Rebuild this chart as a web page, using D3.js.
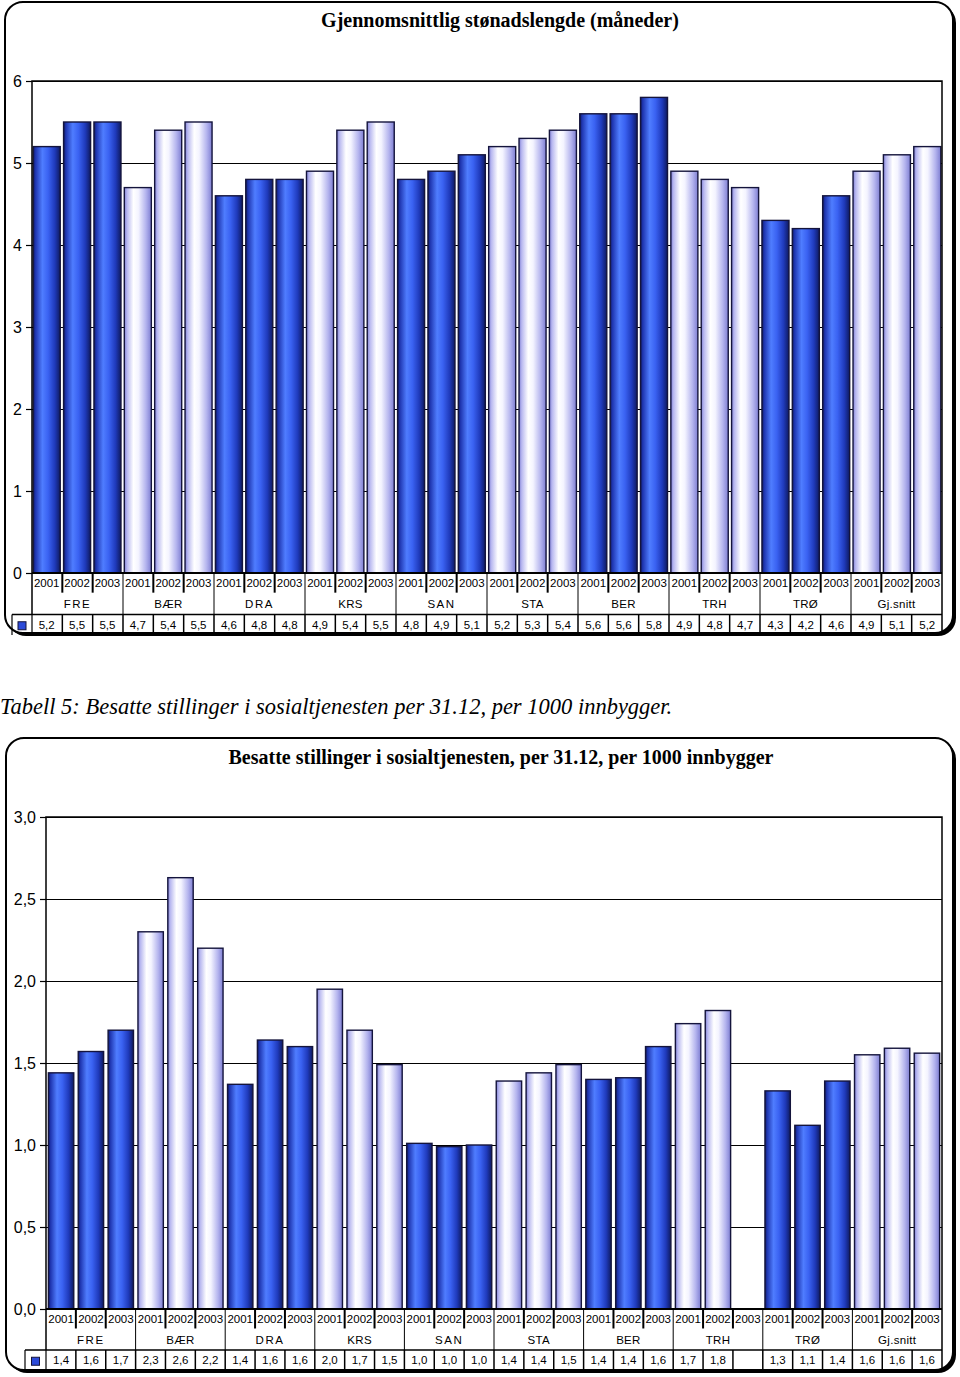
<!DOCTYPE html>
<html>
<head>
<meta charset="utf-8">
<script src="https://cdn.jsdelivr.net/npm/d3@7"></script>
<style>
  html, body { margin: 0; padding: 0; background: #fff; }
  svg { display: block; }
</style>
</head>
<body>
<svg id="chart" width="960" height="1377"></svg>
<script>
// ---------- DATA ----------
const groups = ["FRE", "BÆR", "DRA", "KRS", "SAN", "STA", "BER", "TRH", "TRØ", "Gj.snitt"];
const years = ["2001", "2002", "2003"];

const stonadValues = [5.2, 5.5, 5.5, 4.7, 5.4, 5.5, 4.6, 4.8, 4.8, 4.9, 5.4, 5.5, 4.8, 4.9, 5.1,
                      5.2, 5.3, 5.4, 5.6, 5.6, 5.8, 4.9, 4.8, 4.7, 4.3, 4.2, 4.6, 4.9, 5.1, 5.2];
const stonadLabels = ["5,2", "5,5", "5,5", "4,7", "5,4", "5,5", "4,6", "4,8", "4,8", "4,9", "5,4", "5,5", "4,8", "4,9", "5,1",
                      "5,2", "5,3", "5,4", "5,6", "5,6", "5,8", "4,9", "4,8", "4,7", "4,3", "4,2", "4,6", "4,9", "5,1", "5,2"];
const stonadTicks = [0, 1, 2, 3, 4, 5, 6];
const stonadTickLabels = ["0", "1", "2", "3", "4", "5", "6"];

const stillingValues = [1.44, 1.57, 1.70, 2.30, 2.63, 2.20, 1.37, 1.64, 1.60, 1.95, 1.70, 1.49, 1.01, 0.99, 1.00,
                        1.39, 1.44, 1.49, 1.40, 1.41, 1.60, 1.74, 1.82, null, 1.33, 1.12, 1.39, 1.55, 1.59, 1.56];
const stillingLabels = ["1,4", "1,6", "1,7", "2,3", "2,6", "2,2", "1,4", "1,6", "1,6", "2,0", "1,7", "1,5", "1,0", "1,0", "1,0",
                        "1,4", "1,4", "1,5", "1,4", "1,4", "1,6", "1,7", "1,8", "", "1,3", "1,1", "1,4", "1,6", "1,6", "1,6"];
const stillingTicks = [0, 0.5, 1.0, 1.5, 2.0, 2.5, 3.0];
const stillingTickLabels = ["0,0", "0,5", "1,0", "1,5", "2,0", "2,5", "3,0"];

const topTitle = "Gjennomsnittlig stønadslengde (måneder)";
const bottomTitle = "Besatte stillinger i sosialtjenesten, per 31.12, per 1000 innbygger";
const caption = "Tabell 5: Besatte stillinger i sosialtjenesten per 31.12, per 1000 innbygger.";

// ---------- DRAWING ----------
const svg = d3.select("#chart");
const defs = svg.append("defs");

function grad(id, stops) {
  const g = defs.append("linearGradient").attr("id", id)
    .attr("x1", "0%").attr("x2", "100%").attr("y1", "0%").attr("y2", "0%");
  stops.forEach(([o, c]) => g.append("stop").attr("offset", o).attr("stop-color", c));
}
grad("darkGrad", [["0%", "#0f1a5e"], ["8%", "#1e34ae"], ["34%", "#4f7dff"], ["55%", "#3a62f2"], ["80%", "#1f3abb"], ["100%", "#0f1a60"]]);
grad("lightGrad", [["0%", "#8080d4"], ["10%", "#b8b8f0"], ["34%", "#ffffff"], ["52%", "#f4f4ff"], ["80%", "#b4b4ee"], ["100%", "#7e7ed2"]]);

const sans = "'Liberation Sans', Arial, sans-serif";
const serif = "'Liberation Serif', 'Times New Roman', serif";

function frame(x, y, w, h) {
  svg.append("rect").attr("x", x + 3).attr("y", y + 3).attr("width", w).attr("height", h)
    .attr("rx", 18).attr("fill", "#000");
  svg.append("rect").attr("x", x).attr("y", y).attr("width", w).attr("height", h)
    .attr("rx", 18).attr("fill", "#fff").attr("stroke", "#000").attr("stroke-width", 2);
}

function drawChart(cfg) {
  const { left, right, top, bottom, domainMax, values, labels, ticks, tickLabels,
          legendLeft, rowH } = cfg;
  const g = svg.append("g");
  const keys = d3.range(values.length);
  const x = d3.scaleBand().domain(keys).range([left, right]).paddingInner(cfg.padIn).paddingOuter(cfg.padOut);
  const y = d3.scaleLinear().domain([0, domainMax]).range([bottom, top]);

  // gridlines
  g.append("g").selectAll("line").data(ticks).join("line")
    .attr("x1", left).attr("x2", right)
    .attr("y1", d => Math.round(y(d)) + 0.5).attr("y2", d => Math.round(y(d)) + 0.5)
    .attr("stroke", "#000").attr("stroke-width", 1);

  // bars
  g.append("g").selectAll("rect").data(keys.filter(i => values[i] != null)).join("rect")
    .attr("x", i => x(i)).attr("width", x.bandwidth())
    .attr("y", i => y(values[i])).attr("height", i => y(0) - y(values[i]))
    .attr("fill", i => (Math.floor(i / 3) % 2 === 0) ? "url(#darkGrad)" : "url(#lightGrad)")
    .attr("stroke", "#14143c").attr("stroke-width", 1.4);

  // plot border (left, top, right)
  g.append("path")
    .attr("d", `M${left},${bottom + rowH * 2}V${top}H${right}V${bottom + rowH * 3}`)
    .attr("fill", "none").attr("stroke", "#000").attr("stroke-width", 1.5);

  // y axis ticks + labels
  const axis = d3.axisLeft(y).tickValues(ticks).tickSize(6).tickPadding(4)
    .tickFormat((d, i) => tickLabels[i]);
  const ax = g.append("g").attr("transform", `translate(${left},0)`).call(axis);
  ax.select(".domain").remove();
  ax.selectAll("text").attr("font-family", sans).attr("font-size", 16).attr("fill", "#000");
  ax.selectAll("line").attr("stroke", "#000").attr("stroke-width", 1.2);

  // category table
  const edges = d3.range(values.length + 1).map(i => left + (right - left) * i / values.length);
  const t = g.append("g").attr("font-family", sans).attr("fill", "#000");
  const y0 = bottom, y1 = bottom + rowH, y2 = bottom + rowH * 2, y3 = bottom + rowH * 3;

  // x axis line
  t.append("line").attr("x1", left).attr("x2", right).attr("y1", y0).attr("y2", y0)
    .attr("stroke", "#000").attr("stroke-width", 2);
  // year separators (partial) and group separators (full)
  edges.forEach((ex, i) => {
    if (i === 0 || i === values.length) return;
    const isGroup = i % 3 === 0;
    t.append("line").attr("x1", ex).attr("x2", ex).attr("y1", y0)
      .attr("y2", isGroup ? y2 : y0 + rowH * 0.95)
      .attr("stroke", "#000").attr("stroke-width", isGroup ? 1 : 2);
  });
  // year labels
  t.selectAll("text.yr").data(keys).join("text").attr("class", "yr")
    .attr("x", i => x(i) + x.bandwidth() / 2).attr("y", y0 + rowH * 0.5 + 4)
    .attr("text-anchor", "middle").attr("font-size", 11.5).text(i => years[i % 3]);
  // group labels
  t.selectAll("text.grp").data(groups).join("text").attr("class", "grp")
    .attr("x", (d, gi) => (edges[gi * 3] + edges[gi * 3 + 3]) / 2).attr("y", y1 + rowH * 0.5 + 4)
    .attr("text-anchor", "middle").attr("font-size", 11.5)
    .attr("letter-spacing", d => ["FRE", "DRA", "SAN"].includes(d) ? 1.5 : 0.3).text(d => d);
  // data row
  t.append("line").attr("x1", legendLeft).attr("x2", right).attr("y1", y2).attr("y2", y2)
    .attr("stroke", "#000").attr("stroke-width", 1.5);
  t.append("line").attr("x1", legendLeft).attr("x2", legendLeft).attr("y1", y2).attr("y2", y3)
    .attr("stroke", "#000").attr("stroke-width", 1.2);
  edges.forEach((ex, i) => {
    if (i === 0 || i === values.length) return;
    t.append("line").attr("x1", ex).attr("x2", ex).attr("y1", y2).attr("y2", y3)
      .attr("stroke", "#000").attr("stroke-width", 1.5);
  });
  t.append("line").attr("x1", left).attr("x2", left).attr("y1", y2).attr("y2", y3)
    .attr("stroke", "#000").attr("stroke-width", 1.2);
  t.selectAll("text.val").data(keys).join("text").attr("class", "val")
    .attr("x", i => x(i) + x.bandwidth() / 2).attr("y", y2 + rowH * 0.5 + 4)
    .attr("text-anchor", "middle").attr("font-size", 11.5).text(i => labels[i]);
  // legend key
  const kx = (legendLeft + left) / 2;
  t.append("rect").attr("x", kx - 4).attr("y", y2 + rowH * 0.5 - 3).attr("width", 8).attr("height", 8)
    .attr("fill", "#2c4ad8").attr("stroke", "#14143c").attr("stroke-width", 1);
}

// ---- top chart ----
frame(5, 2, 948, 631);
svg.append("text").attr("x", 500).attr("y", 27).attr("text-anchor", "middle")
  .attr("font-family", serif).attr("font-weight", "bold").attr("font-size", 20).text(topTitle);
drawChart({
  left: 32, right: 942, top: 81, bottom: 573, domainMax: 6,
  values: stonadValues, labels: stonadLabels, ticks: stonadTicks, tickLabels: stonadTickLabels,
  legendLeft: 12, rowH: 20.7, padIn: 0.11, padOut: 0.04
});

// ---- caption ----
svg.append("text").attr("x", 0).attr("y", 714)
  .attr("font-family", serif).attr("font-style", "italic").attr("font-size", 22.5).text(caption);

// ---- bottom chart ----
frame(6, 738, 947, 632);
svg.append("text").attr("x", 501).attr("y", 764).attr("text-anchor", "middle")
  .attr("font-family", serif).attr("font-weight", "bold").attr("font-size", 20).text(bottomTitle);
drawChart({
  left: 46, right: 942, top: 817, bottom: 1309, domainMax: 3,
  values: stillingValues, labels: stillingLabels, ticks: stillingTicks, tickLabels: stillingTickLabels,
  legendLeft: 25, rowH: 20.5, padIn: 0.15, padOut: 0.08
});
</script>
</body>
</html>
